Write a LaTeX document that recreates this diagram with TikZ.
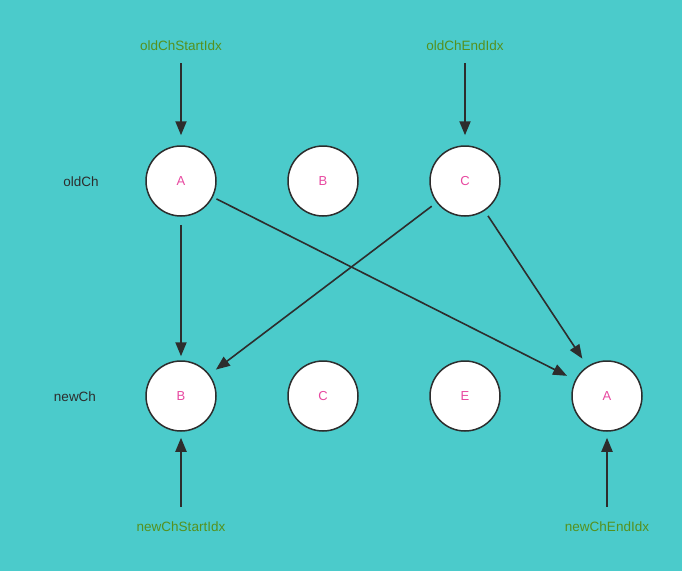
\documentclass[tikz,border=0pt]{standalone}
\usepackage{fontspec}
\setmainfont{Liberation Sans}
\usetikzlibrary{arrows.meta}
\definecolor{bg}{RGB}{75,203,203}
\definecolor{idx}{RGB}{85,145,30}
\definecolor{letter}{RGB}{232,72,160}
\definecolor{ink}{RGB}{45,45,45}
\tikzset{
  vnode/.style={circle,draw=ink,line width=1.5pt,fill=white,minimum size=70pt,inner sep=0pt,text=letter,font=\fontsize{13}{15}\selectfont},
  idxlabel/.style={text=idx,font=\fontsize{13.5}{16}\selectfont,inner sep=1pt},
  rowlabel/.style={text=ink,font=\fontsize{13.5}{16}\selectfont,inner sep=1pt},
  conn/.style={draw=ink,line width=2pt,-{Triangle[length=14pt,width=11pt]}},
  diag/.style={draw=ink,line width=1.6pt,-{Triangle[length=14pt,width=11pt]}},
}
\begin{document}
\begin{tikzpicture}[x=1pt,y=-1pt]
\fill[bg] (0,0) rectangle (682,571);
\useasboundingbox (0,0) rectangle (682,571);
% row labels
\node[rowlabel] (oldch) at (81,182) {oldCh};
\node[rowlabel] (newch) at (75,397) {newCh};
% old nodes
\node[vnode] (oA) at (181,181) {A};
\node[vnode] (oB) at (323,181) {B};
\node[vnode] (oC) at (465,181) {C};
% new nodes
\node[vnode] (nB) at (181,396) {B};
\node[vnode] (nC) at (323,396) {C};
\node[vnode] (nE) at (465,396) {E};
\node[vnode] (nA) at (607,396) {A};
% index labels
\node[idxlabel] (osi) at (181,46) {oldChStartIdx};
\node[idxlabel] (oei) at (465,46) {oldChEndIdx};
\node[idxlabel] (nsi) at (181,527) {newChStartIdx};
\node[idxlabel] (nei) at (607,527) {newChEndIdx};
% index arrows
\draw[conn,shorten <=11pt,shorten >=10pt] (osi) -- (oA);
\draw[conn,shorten <=11pt,shorten >=10pt] (oei) -- (oC);
\draw[conn,shorten <=14pt,shorten >=6pt] (nsi) -- (nB);
\draw[conn,shorten <=14pt,shorten >=6pt] (nei) -- (nA);
% moves
\draw[conn,shorten <=8pt,shorten >=4pt] (oA) -- (nB);
\draw[diag,shorten <=4pt,shorten >=9pt] (oA) -- (nA);
\draw[diag,shorten <=6pt,shorten >=8pt] (oC) -- (nB);
\draw[diag,shorten <=6pt,shorten >=9pt] (oC) -- (nA);
\end{tikzpicture}
\end{document}
